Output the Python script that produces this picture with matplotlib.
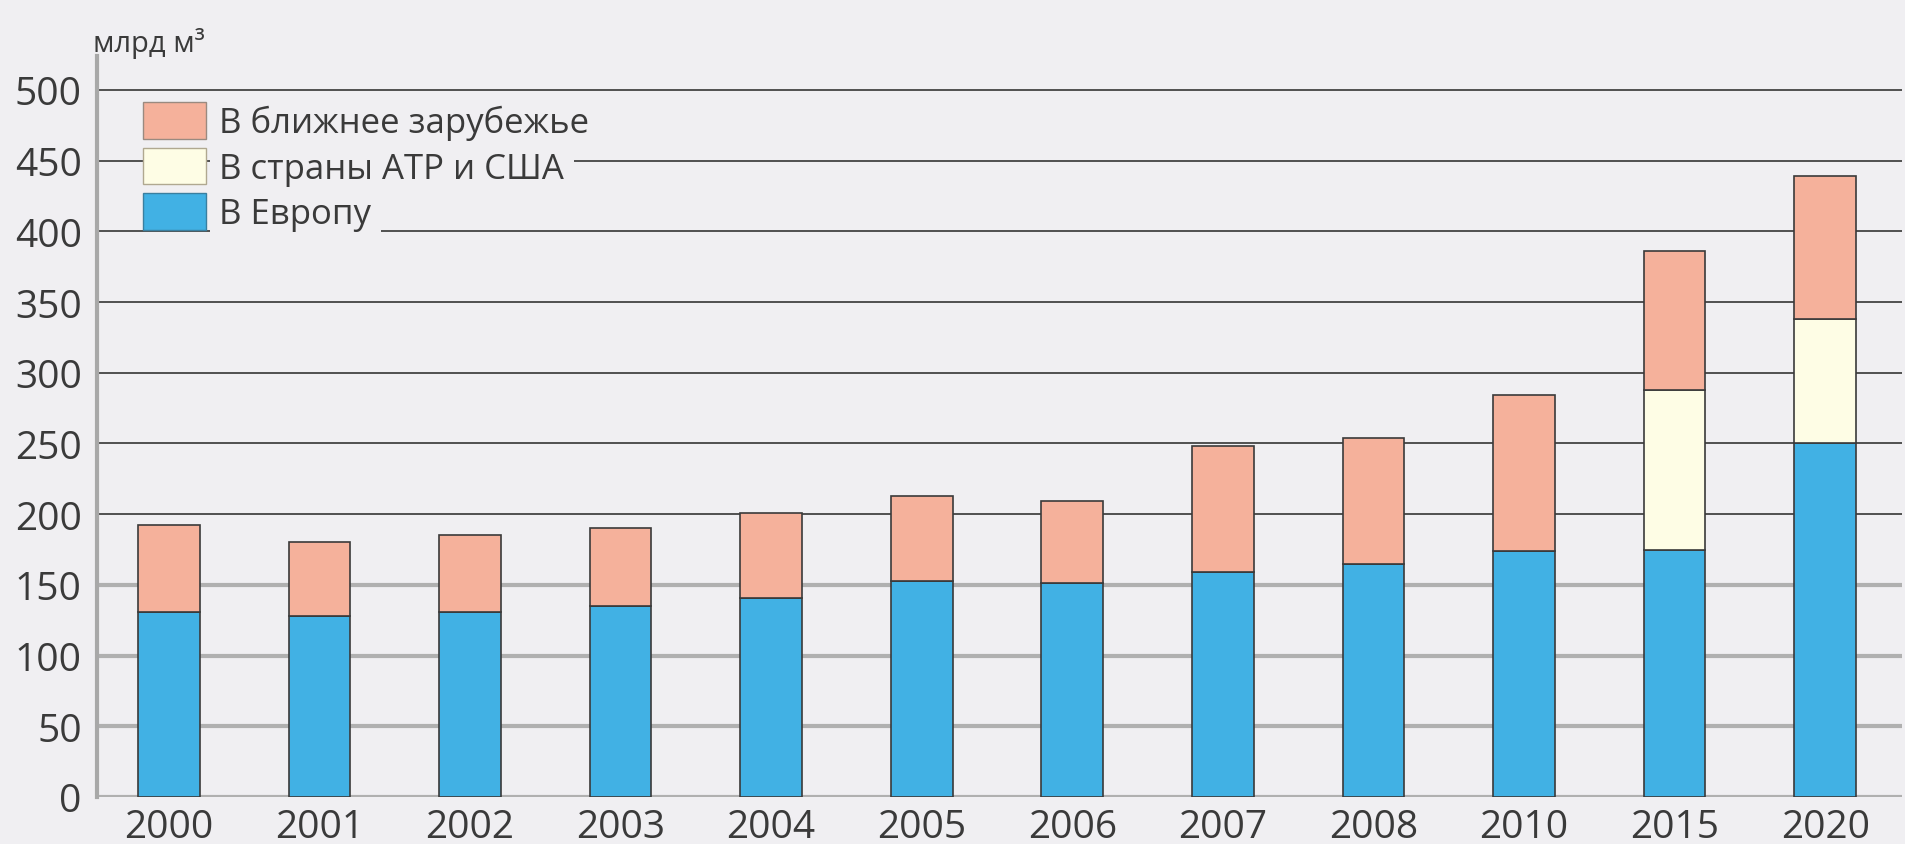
import matplotlib
matplotlib.use("Agg")
import matplotlib.pyplot as plt
from matplotlib.patches import Patch
import numpy as np

plt.rcParams['font.family'] = ['Open Sans', 'DejaVu Sans']

# экспорт газа, млрд м3
years = ['2000', '2001', '2002', '2003', '2004', '2005', '2006', '2007', '2008', '2010', '2015', '2020']
europe = [131, 128, 131, 135, 141, 153, 151, 159, 165, 174, 175, 250]
apr_usa = [0, 0, 0, 0, 0, 0, 0, 0, 0, 0, 113, 88]
near_abroad = [61, 52, 54, 55, 60, 60, 58, 89, 89, 110, 98, 101]

labels = ['В ближнее зарубежье', 'В страны АТР и США', 'В Европу']
yticks = [0, 50, 100, 150, 200, 250, 300, 350, 400, 450, 500]

bg = '#f0eff2'
c_eu = '#41b1e4'
c_apr = '#fefde5'
c_near = '#f5b19b'
edge = '#3a3a3a'
txt = '#3a3a3a'

fig = plt.figure(figsize=(19.05, 8.45), dpi=100, facecolor=bg)
ax = fig.add_axes([97 / 1905, 47 / 845, 1805 / 1905, 741 / 845])
ax.set_facecolor(bg)

x = np.arange(len(years))
eu = np.array(europe)
apr = np.array(apr_usa)
near = np.array(near_abroad)
w = 0.41

# линии сетки: верхние тонкие тёмные, нижние толстые серые
for v in yticks:
    if v >= 200:
        ax.axhline(v, color='#505050', lw=1.4, zorder=1)
    else:
        ax.axhline(v, color='#b0b0b0', lw=3, zorder=1)

ax.bar(x, eu, w, color=c_eu, edgecolor=edge, lw=1.2, zorder=3)
ax.bar(x, apr, w, bottom=eu, color=c_apr, edgecolor=edge, lw=1.2, zorder=3)
ax.bar(x, near, w, bottom=eu + apr, color=c_near, edgecolor=edge, lw=1.2, zorder=3)

ax.set_xlim(-0.477, 11.51)
ax.set_ylim(0, 524)
ax.set_yticks(yticks)
ax.set_xticks(x)
ax.set_xticklabels(years)
ax.tick_params(axis='both', length=0, labelsize=28, labelcolor=txt)
ax.tick_params(axis='y', pad=11)
ax.tick_params(axis='x', pad=8)

for s in ['top', 'right', 'bottom']:
    ax.spines[s].set_visible(False)
ax.spines['left'].set_color('#a8a8a8')
ax.spines['left'].set_linewidth(3)
ax.spines['left'].set_zorder(2)

handles = [Patch(facecolor=c_near, edgecolor='#9a8a80', lw=1),
           Patch(facecolor=c_apr, edgecolor='#b0a890', lw=1),
           Patch(facecolor=c_eu, edgecolor='#3a7fa0', lw=1)]
leg = ax.legend(handles, labels, loc='upper left',
                bbox_to_anchor=(143 / 1905, 1 - 103 / 845),
                bbox_transform=fig.transFigure, frameon=False,
                fontsize=25, handlelength=1.8, handleheight=1.25,
                labelspacing=0.22, handletextpad=0.4, borderpad=0,
                borderaxespad=0)
for t in leg.get_texts():
    t.set_color(txt)
    t.set_bbox(dict(facecolor=bg, edgecolor='none', pad=7))
leg.set_zorder(6)

fig.text(93 / 1905, 1 - 52 / 845, 'млрд м³', fontsize=21, color=txt,
         ha='left', va='baseline')

fig.savefig('out.png', dpi=100, facecolor=bg)
